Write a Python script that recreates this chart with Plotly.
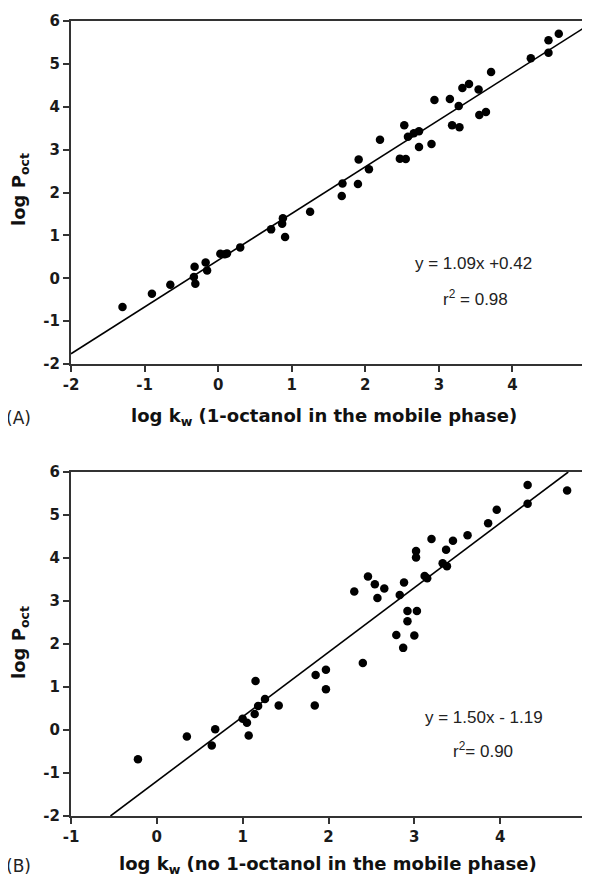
import plotly.graph_objects as go

# ---- Data: panel A (1-octanol in mobile phase) ----
a_x = [-1.30, -0.90, -0.65, -0.32, -0.33, -0.31, -0.17, -0.15, 0.03, 0.09, 0.12, 0.30,
       0.72, 0.87, 0.88, 0.91, 1.25, 1.68, 1.69, 1.90, 1.91, 2.05, 2.20, 2.47, 2.55,
       2.53, 2.58, 2.66, 2.73, 2.73, 2.90, 2.94, 3.15, 3.18, 3.28, 3.27, 3.32, 3.41,
       3.54, 3.55, 3.64, 3.71, 4.25, 4.49, 4.49, 4.63]
a_y = [-0.67, -0.36, -0.15, 0.27, 0.03, -0.13, 0.37, 0.18, 0.57, 0.56, 0.58, 0.72,
       1.14, 1.27, 1.40, 0.96, 1.55, 1.92, 2.21, 2.20, 2.77, 2.54, 3.23, 2.79, 2.78,
       3.57, 3.30, 3.38, 3.43, 3.06, 3.13, 4.16, 4.18, 3.57, 3.52, 4.02, 4.44, 4.53,
       4.40, 3.81, 3.88, 4.81, 5.13, 5.26, 5.55, 5.70]
a_slope, a_icpt = 1.09, 0.42

# ---- Data: panel B (no 1-octanol in mobile phase) ----
b_x = [-0.22, 0.35, 0.64, 0.68, 1.00, 1.05, 1.07, 1.14, 1.15, 1.18, 1.26, 1.42,
       1.84, 1.85, 1.97, 1.97, 2.40, 2.87, 2.79, 3.00, 2.92, 2.92, 3.03, 2.30, 2.46,
       2.54, 2.57, 2.65, 2.83, 2.88, 3.02, 3.02, 3.20, 3.12, 3.15, 3.37, 3.45, 3.33,
       3.38, 3.62, 3.86, 3.96, 4.32, 4.32, 4.78]
b_y = [-0.68, -0.15, -0.36, 0.02, 0.26, 0.17, -0.13, 0.37, 1.14, 0.56, 0.72, 0.57,
       0.57, 1.28, 1.40, 0.95, 1.56, 1.91, 2.21, 2.20, 2.53, 2.77, 2.77, 3.22, 3.57,
       3.39, 3.07, 3.29, 3.14, 3.43, 4.16, 4.01, 4.44, 3.58, 3.53, 4.19, 4.40, 3.88,
       3.81, 4.53, 4.81, 5.12, 5.26, 5.70, 5.57]
b_slope, b_icpt = 1.50, -1.19

a_xrange = [-2, 5]
b_xrange = [-1, 5]
y_range = [-2, 6]
y_ticks = [-2, -1, 0, 1, 2, 3, 4, 5, 6]
y_ticktext = ["-2", "-1", "0", "1", "2", "3", "4", "5", "6"]
a_xticks = [-2, -1, 0, 1, 2, 3, 4, 5]
a_xticktext = ["-2", "-1", "0", "1", "2", "3", "4", "5"]
b_xticks = [-1, 0, 1, 2, 3, 4, 5]
b_xticktext = ["-1", "0", "1", "2", "3", "4", "5"]

def fit_line(m, b, xr, yr):
    x0 = max(xr[0], (yr[0] - b) / m)
    x1 = min(xr[1], (yr[1] - b) / m)
    return [x0, x1], [m * x0 + b, m * x1 + b]

# page body has an 8px margin; lay out in page pixels and convert
OFF = 8
W, H = 590 - OFF, 878 - OFF
def fx(px):
    return (px - OFF) / W
def fy(py):
    return 1 - (py - OFF) / H

fig = go.Figure()

mk = dict(color="black", size=8.5)
fig.add_trace(go.Scatter(x=a_x, y=a_y, mode="markers", marker=mk, xaxis="x", yaxis="y", showlegend=False))
lx, ly = fit_line(a_slope, a_icpt, a_xrange, y_range)
fig.add_trace(go.Scatter(x=lx, y=ly, mode="lines", line=dict(color="black", width=1.6), xaxis="x", yaxis="y", showlegend=False))

fig.add_trace(go.Scatter(x=b_x, y=b_y, mode="markers", marker=mk, xaxis="x2", yaxis="y2", showlegend=False))
lx, ly = fit_line(b_slope, b_icpt, b_xrange, y_range)
fig.add_trace(go.Scatter(x=lx, y=ly, mode="lines", line=dict(color="black", width=1.6), xaxis="x2", yaxis="y2", showlegend=False))

tickfont = dict(family="DejaVu Sans", size=15, color="#1a1a1a", weight="bold")
common = dict(showgrid=False, zeroline=False, showline=True, linecolor="#333", linewidth=2,
              mirror=True, ticks="outside", ticklen=6, tickwidth=1.5, tickcolor="#333",
              tickfont=tickfont, automargin=False, tickmode="array")

xd = [fx(71), fx(586)]
fig.update_layout(
    width=W, height=H,
    margin=dict(l=0, r=0, t=0, b=0, autoexpand=False),
    plot_bgcolor="white", paper_bgcolor="white",
    xaxis=dict(domain=xd, range=a_xrange, tickvals=a_xticks, ticktext=a_xticktext, anchor="y", **common),
    yaxis=dict(domain=[fy(364), fy(21)], range=y_range, tickvals=y_ticks, ticktext=y_ticktext, anchor="x", **common),
    xaxis2=dict(domain=xd, range=b_xrange, tickvals=b_xticks, ticktext=b_xticktext, anchor="y2", **common),
    yaxis2=dict(domain=[fy(816), fy(472)], range=y_range, tickvals=y_ticks, ticktext=y_ticktext, anchor="x2", **common),
)

bold = dict(family="DejaVu Sans", size=18, color="#111")
reg = dict(family="Liberation Sans", size=17, color="#222")
lab = dict(family="DejaVu Sans", size=17, color="#222")
ann = []
ann.append(dict(text="<b>log k<sub>w</sub> (1-octanol in the mobile phase)</b>", x=fx(324), y=fy(417),
                xref="paper", yref="paper", showarrow=False, font=bold, xanchor="center", yanchor="middle"))
ann.append(dict(text="<b>log k<sub>w</sub> (no 1-octanol in the mobile phase)</b>", x=fx(328), y=fy(865),
                xref="paper", yref="paper", showarrow=False, font=bold, xanchor="center", yanchor="middle"))
for yc in (190, 643):
    ann.append(dict(text="<b>log P<sub>oct</sub></b>", x=fx(20), y=fy(yc), xref="paper", yref="paper",
                    showarrow=False, font=bold, textangle=-90, xanchor="center", yanchor="middle"))
ann.append(dict(text="(A)", x=fx(4), y=fy(418), xref="paper", yref="paper", showarrow=False,
                font=lab, xanchor="left", yanchor="middle"))
ann.append(dict(text="(B)", x=fx(4), y=fy(866), xref="paper", yref="paper", showarrow=False,
                font=lab, xanchor="left", yanchor="middle"))
ann.append(dict(text="y = 1.09x +0.42", x=fx(473), y=fy(263), xref="paper", yref="paper",
                showarrow=False, font=reg, xanchor="center", yanchor="middle"))
ann.append(dict(text="r<sup>2</sup> = 0.98", x=fx(475), y=fy(298), xref="paper", yref="paper",
                showarrow=False, font=reg, xanchor="center", yanchor="middle"))
ann.append(dict(text="y = 1.50x - 1.19", x=fx(484), y=fy(717), xref="paper", yref="paper",
                showarrow=False, font=reg, xanchor="center", yanchor="middle"))
ann.append(dict(text="r<sup>2</sup>= 0.90", x=fx(483), y=fy(750), xref="paper", yref="paper",
                showarrow=False, font=reg, xanchor="center", yanchor="middle"))
fig.update_layout(annotations=ann)

fig.write_html("out.html")
